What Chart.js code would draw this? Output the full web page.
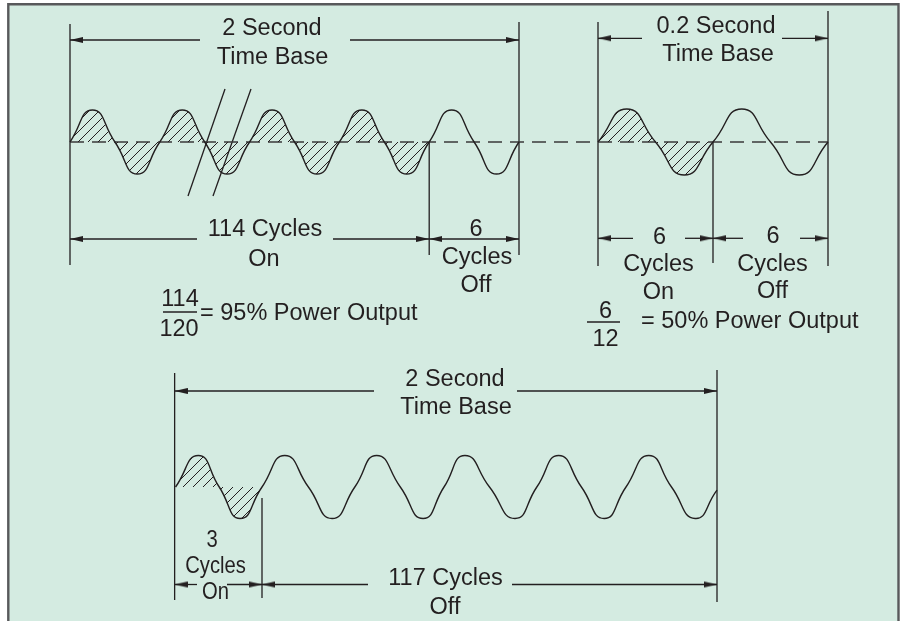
<!DOCTYPE html>
<html>
<head>
<meta charset="utf-8">
<script src="https://cdn.jsdelivr.net/npm/chart.js@4.4.1/dist/chart.umd.min.js"></script>
<style>
    html, body { margin: 0; padding: 0; background: #fff; }
    #marco { position: relative; width: 902px; height: 621px; }
</style>
</head>
<body>
<div id="marco"><canvas id="graficoCiclos"></canvas></div>
<script>
// wave samples: position in cycles, height in units of one peak
const fasesA = [0, 0.25, 0.5, 0.75, 1, 1.25, 1.5, 1.75, 2, 2.25, 2.5, 2.75, 3, 3.25, 3.5, 3.75, 4, 4.25, 4.5, 4.75, 5];
const ondaA = [0, 1, 0, -1, 0, 1, 0, -1, 0, 1, 0, -1, 0, 1, 0, -1, 0, 1, 0, -1, 0];
const encendidoA = 4;

const fasesB = [0, 0.25, 0.5, 0.75, 1, 1.25, 1.5, 1.75, 2];
const ondaB = [0, 1, 0, -1, 0, 1, 0, -1, 0];
const encendidoB = 1;

const fasesC = [0.05, 0.3, 0.53, 0.76, 1, 1.25, 1.51, 1.77, 2.02, 2.26, 2.52, 2.77, 3, 3.23, 3.5, 3.78, 4.02, 4.26, 4.51, 4.76, 5, 5.25, 5.5, 5.76, 6];
const ondaC = [0, 1, 0, -1, 0, 1, 0, -1, 0, 1, 0, -1, 0, 1, 0, -1, 0, 1, 0, -1, 0, 1, 0, -1, -0.1];
const encendidoC = 1;

const W = 902, H = 621;
const tinta = "#231f20";
const fondo = "#d4ebe1";
const fuente = '"Liberation Sans", Arial, Helvetica, sans-serif';
const tam = 23.5;

// where each wave sits on the page
const paneles = {
    a: { x0: 70, x1: 519, ciclos: 5, medio: 142, amp: 32 },
    b: { x0: 598, x1: 828, ciclos: 2, medio: 142, amp: 33 },
    c: { x0: 171, x1: 717, ciclos: 6, medio: 487, amp: 31.5 },
};

const verticales = [
    ["a", 0, 24, 265], ["a", 5, 22, 255], ["a", 4, 142, 255],
    ["b", 0, 22, 266], ["b", 2, 11, 266], ["b", 1, 142, 263],
    ["c", 0.04, 373, 600], ["c", 6, 370, 602], ["c", 1, 498, 598],
];

const flechas = [
    ["a", 40, 0, 5, [200, 350]],
    ["a", 239, 0, 4, [197, 333]],
    ["a", 239, 4, 5, null],
    ["b", 38.3, 0, 2, [642, 782]],
    ["b", 238.3, 0, 1, [633, 685]],
    ["b", 238.3, 1, 2, [743, 800]],
    ["c", 391, 0.04, 6, [374, 517]],
    ["c", 584.5, 0.04, 1, [197, 227]],
    ["c", 584.5, 1, 6, [368, 512]],
];

const rotulos = [
    { t: "2 Second", x: 272, y: 26.5 },
    { t: "Time Base", x: 272.5, y: 55 },
    { t: "114 Cycles", x: 265, y: 227 },
    { t: "On", x: 264, y: 257.5 },
    { t: "6", x: 476, y: 227 },
    { t: "Cycles", x: 477, y: 255.5 },
    { t: "Off", x: 476, y: 283.5 },
    { t: "114", x: 180, y: 297.5 },
    { t: "120", x: 179, y: 327.5 },
    { t: "= 95% Power Output", x: 200, y: 311.5, izq: true },

    { t: "0.2 Second", x: 716, y: 24 },
    { t: "Time Base", x: 718, y: 52.5 },
    { t: "6", x: 659.5, y: 235.5 },
    { t: "Cycles", x: 658.5, y: 262.5 },
    { t: "On", x: 658.5, y: 290.5 },
    { t: "6", x: 773, y: 234.5 },
    { t: "Cycles", x: 772.5, y: 262.5 },
    { t: "Off", x: 772.5, y: 289 },
    { t: "6", x: 605.5, y: 309.5 },
    { t: "12", x: 605.5, y: 337.5 },
    { t: "= 50% Power Output", x: 641, y: 319.5, izq: true },

    { t: "2 Second", x: 455, y: 377 },
    { t: "Time Base", x: 456, y: 405 },
    { t: "3", x: 212, y: 538.5, estrecha: true },
    { t: "Cycles", x: 215.5, y: 564, estrecha: true },
    { t: "On", x: 215.5, y: 590.5, estrecha: true },
    { t: "117 Cycles", x: 445.5, y: 576 },
    { t: "Off", x: 445, y: 605 },
];

// fraction bars and the two break marks, in page pixels
const trazosPagina = [
    [[163, 312], [197, 312]],
    [[587, 322], [620, 322]],
    [[188, 196], [225, 89]],
    [[213, 196], [251, 89]],
];

function puntos(fases, onda, hasta) {
    const lista = [];
    fases.forEach((f, i) => {
        if (hasta === undefined || f <= hasta) lista.push({ x: f, y: onda[i] });
    });
    return lista;
}

function aCiclos(id, px) {
    const p = paneles[id];
    return (px - p.x0) / ((p.x1 - p.x0) / p.ciclos);
}

function escalaX(p) {
    const k = (p.x1 - p.x0) / p.ciclos;
    return { type: "linear", display: false, min: -p.x0 / k, max: (W - p.x0) / k };
}

function escalaY(p) {
    return { type: "linear", display: false, min: -(H - p.medio) / p.amp, max: p.medio / p.amp };
}

function rayado() {
    const s = 10;
    const c = document.createElement("canvas");
    c.width = s;
    c.height = s;
    const g = c.getContext("2d");
    g.strokeStyle = tinta;
    g.lineWidth = 1;
    g.beginPath();
    g.moveTo(0, s); g.lineTo(s, 0);
    g.moveTo(-1, 1); g.lineTo(1, -1);
    g.moveTo(s - 1, s + 1); g.lineTo(s + 1, s - 1);
    g.stroke();
    return g.createPattern(c, "repeat");
}

const punta = (() => {
    const c = document.createElement("canvas");
    c.width = 26;
    c.height = 8;
    const g = c.getContext("2d");
    g.fillStyle = tinta;
    g.beginPath();
    g.moveTo(0, 0.9); g.lineTo(13, 4); g.lineTo(0, 7.1);
    g.closePath();
    g.fill();
    return c;
})();

function trazo(ejeX, ejeY, data, extra) {
    return Object.assign({
        type: "line",
        xAxisID: ejeX,
        yAxisID: ejeY,
        data: data,
        borderColor: tinta,
        borderWidth: 1.3,
        pointRadius: 0,
        tension: 0,
        fill: false,
    }, extra || {});
}

const patron = rayado();
const datasets = [];

[["a", fasesA, ondaA, encendidoA], ["b", fasesB, ondaB, encendidoB], ["c", fasesC, ondaC, encendidoC]].forEach(([id, fases, onda, on]) => {
    datasets.push(trazo("x" + id, "y" + id, puntos(fases, onda), { tension: 0.55, borderWidth: 1.4 }));
    datasets.push(trazo("x" + id, "y" + id, puntos(fases, onda, on), {
        tension: 0.55,
        borderWidth: 0,
        borderColor: "rgba(0,0,0,0)",
        backgroundColor: patron,
        fill: { value: 0 },
    }));
});

// dashed zero line across both top waves
datasets.push(trazo("px", "ya", [{ x: paneles.a.x0, y: 0 }, { x: paneles.b.x1, y: 0 }], { borderDash: [14, 8], borderColor: "#3a3a3a" }));

verticales.forEach(([id, c, y0, y1]) => {
    datasets.push(trazo("x" + id, "py", [{ x: c, y: y0 }, { x: c, y: y1 }]));
});

flechas.forEach(([id, y, desde, hasta, hueco]) => {
    const eje = "x" + id;
    if (!hueco) {
        datasets.push(trazo(eje, "py", [{ x: desde, y }, { x: hasta, y }], {
            pointStyle: punta, pointRotation: [180, 0], pointRadius: [4, 4],
        }));
        return;
    }
    datasets.push(trazo(eje, "py", [{ x: desde, y }, { x: aCiclos(id, hueco[0]), y }], {
        pointStyle: punta, pointRotation: [180, 0], pointRadius: [4, 0],
    }));
    datasets.push(trazo(eje, "py", [{ x: aCiclos(id, hueco[1]), y }, { x: hasta, y }], {
        pointStyle: punta, pointRotation: [0, 0], pointRadius: [0, 4],
    }));
});

trazosPagina.forEach(([a, b]) => {
    datasets.push(trazo("px", "py", [{ x: a[0], y: a[1] }, { x: b[0], y: b[1] }]));
});

const fondoPlugin = {
    id: "fondo",
    beforeDraw(chart) {
        const ctx = chart.ctx;
        ctx.save();
        ctx.fillStyle = "#ffffff";
        ctx.fillRect(0, 0, W, H);
        ctx.fillStyle = fondo;
        ctx.fillRect(8, 4, 891, H - 4);
        ctx.strokeStyle = "#58595b";
        ctx.lineWidth = 2.4;
        ctx.beginPath();
        ctx.moveTo(8.3, H + 2);
        ctx.lineTo(8.3, 4.3);
        ctx.lineTo(898.5, 4.3);
        ctx.lineTo(898.5, H + 2);
        ctx.stroke();
        ctx.restore();
    },
};

const rotulosPlugin = {
    id: "rotulos",
    afterDatasetsDraw(chart) {
        const { ctx, scales } = chart;
        ctx.save();
        ctx.fillStyle = tinta;
        ctx.textBaseline = "alphabetic";
        ctx.font = tam + "px " + fuente;
        rotulos.forEach((r) => {
            const x = scales.px.getPixelForValue(r.x);
            const y = scales.py.getPixelForValue(r.y) + tam * 0.365;
            ctx.textAlign = r.izq ? "left" : "center";
            if (r.estrecha) {
                // the small "3 Cycles On" label is set condensed
                ctx.save();
                ctx.translate(x, y);
                ctx.scale(0.86, 1.04);
                ctx.fillText(r.t, 0, 0);
                ctx.restore();
            } else {
                ctx.fillText(r.t, x, y);
            }
        });
        ctx.restore();
    },
};

const escalas = {
    px: { type: "linear", display: false, min: 0, max: W },
    py: { type: "linear", display: false, min: 0, max: H, reverse: true },
};
Object.keys(paneles).forEach((id) => {
    escalas["x" + id] = escalaX(paneles[id]);
    escalas["y" + id] = escalaY(paneles[id]);
});

const configGrafico = {
    type: "line",
    data: { datasets: datasets },
    options: {
        responsive: true,
        maintainAspectRatio: false,
        animation: false,
        events: [],
        layout: { padding: 0, autoPadding: false },
        plugins: {
            legend: { display: false },
            tooltip: { enabled: false },
        },
        scales: escalas,
    },
    plugins: [fondoPlugin, rotulosPlugin],
};

const graficoCiclos = new Chart(document.getElementById("graficoCiclos"), configGrafico);
</script>
</body>
</html>
